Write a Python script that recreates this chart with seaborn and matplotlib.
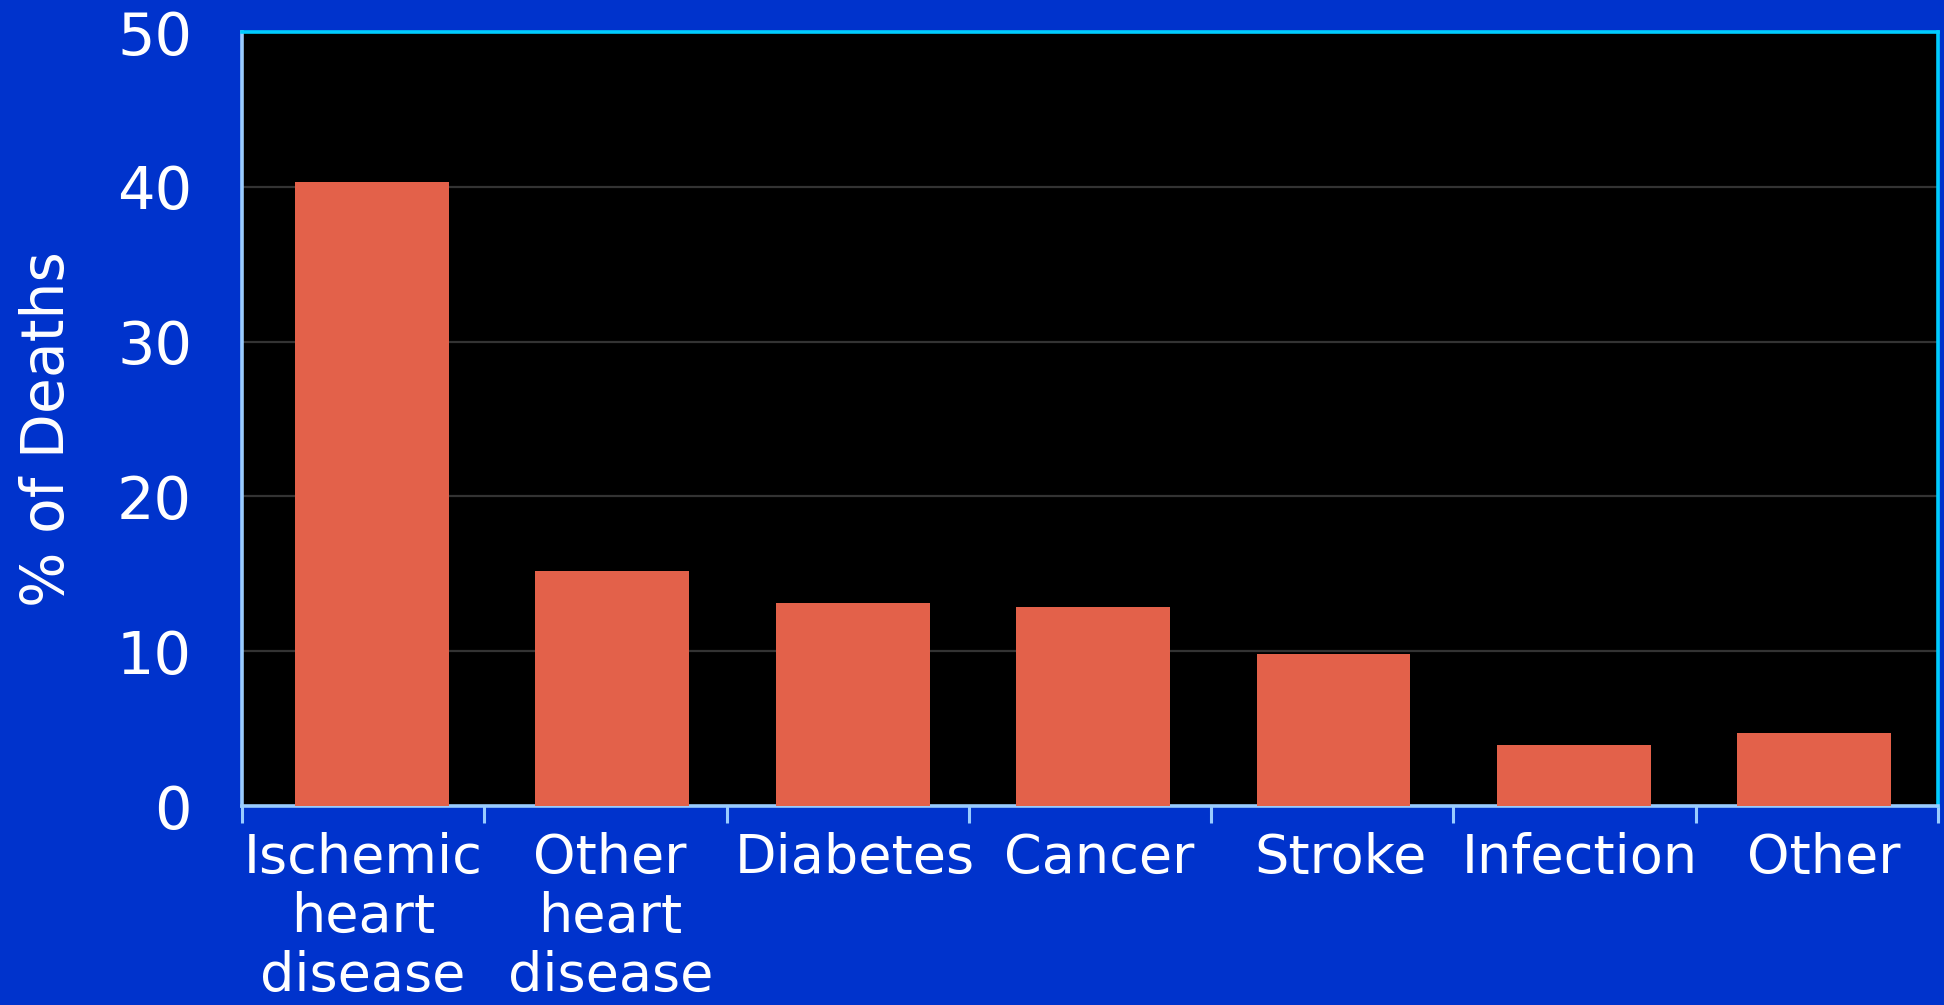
import matplotlib
matplotlib.use("Agg")
import matplotlib.pyplot as plt
import seaborn as sns
import numpy as np

categories = ["Ischemic\nheart\ndisease", "Other\nheart\ndisease", "Diabetes",
              "Cancer", "Stroke", "Infection", "Other"]
values = [40.3, 15.2, 13.1, 12.85, 9.8, 3.95, 4.7]
yticks = [0, 10, 20, 30, 40, 50]

BG = "#0033CC"
BAR = "#E3614A"
SPINE_LB = "#99CCFF"
SPINE_TR = "#00CCFF"

sns.set_style("white")
plt.rcParams["font.family"] = ["DejaVu Sans"]

fig = plt.figure(figsize=(19.44, 10.05), dpi=100, facecolor=BG)
ax = fig.add_axes([242/1944, 1 - 806/1005, (1938-242)/1944, (806-32)/1005])
ax.set_facecolor("black")

sns.barplot(x=categories, y=values, color=BAR, width=0.64, saturation=1,
            edgecolor="none", linewidth=0, ax=ax, zorder=3)

n = len(categories)
x0, x1 = -0.541, n - 1 + 0.515
ax.set_xlim(x0, x1)
ax.set_ylim(0, 50)
ax.set_yticks(yticks)
ax.yaxis.grid(True, color="#333333", linewidth=1.6, zorder=0)
ax.set_axisbelow(True)

for s in ["left", "bottom"]:
    ax.spines[s].set_color(SPINE_LB)
    ax.spines[s].set_linewidth(2.6)
for s in ["top", "right"]:
    ax.spines[s].set_color(SPINE_TR)
    ax.spines[s].set_linewidth(2.6)
    ax.spines[s].set_visible(True)

step = (x1 - x0) / n
bounds = x0 + step * np.arange(n + 1)
centers = x0 + step * (np.arange(n) + 0.5) + np.r_[0, 0.02, 0.03, 0.04, 0.035, 0.02, 0.03]
ax.set_xticks(centers)
ax.set_xticklabels(categories)
ax.set_xticks(bounds, minor=True)

ax.tick_params(axis="y", direction="in", length=13.5, width=2.2, color=SPINE_LB,
               labelsize=42.5, labelcolor="white", pad=36, right=False)
ax.tick_params(axis="x", which="major", length=0, labelsize=39, labelcolor="white", pad=19)
ax.tick_params(axis="x", which="minor", direction="out", length=12.5, width=2.2,
               color=SPINE_LB, bottom=True)
for lbl in ax.get_xticklabels():
    lbl.set_linespacing(1.17)

ax.set_xlabel("")
ax.set_ylabel("% of Deaths", fontsize=42, color="white")
ax.yaxis.set_label_coords(-0.098, 0.487)

fig.savefig("out.png", dpi=100, facecolor=BG)
